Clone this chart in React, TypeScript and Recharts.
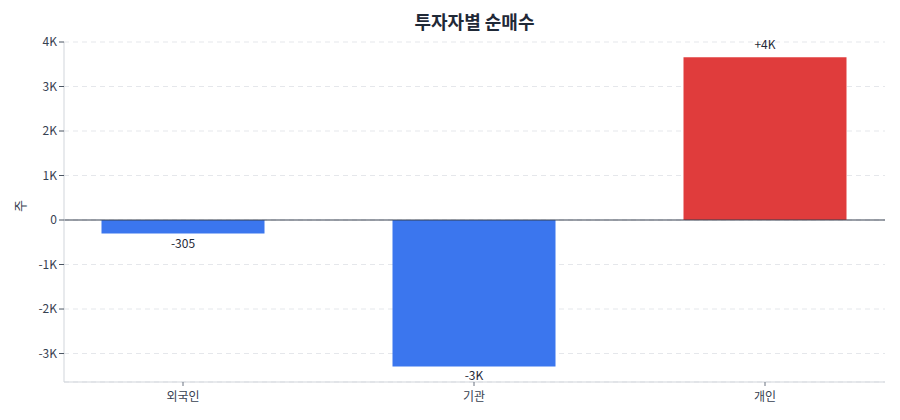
import { Bar, BarChart, CartesianGrid, Cell, LabelList, ReferenceLine, XAxis, YAxis } from "recharts"

const investors = ["외국인", "기관", "개인"]
const netBuy = [-305, -3290, 3660]
const yTicks = [-3000, -2000, -1000, 0, 1000, 2000, 3000, 4000]

const data = investors.map((name, i) => ({ name, value: netBuy[i] }))

const fmtTick = (v: number) => (v === 0 ? "0" : `${v / 1000}K`)

const fmtLabel = (v: number) => {
  if (Math.abs(v) >= 1000) {
    const k = Math.round(v / 1000)
    return `${k > 0 ? "+" : ""}${k}K`
  }
  return `${v > 0 ? "+" : ""}${v}`
}

const font = "'Noto Sans CJK KR', 'Noto Sans', sans-serif"

const BarLabel = (props: any) => {
  const { x, y, width, height, value } = props
  const v = Number(value)
  const cx = Number(x) + Number(width) / 2
  const top = Math.min(Number(y), Number(y) + Number(height))
  const bottom = Math.max(Number(y), Number(y) + Number(height))
  const ty = v >= 0 ? top - 8 : bottom + 14
  return (
    <text x={cx} y={ty} textAnchor="middle" fontSize={12} fill="#1f2937" fontFamily={font}>
      {fmtLabel(v)}
    </text>
  )
}

export default function App() {
  return (
    <div style={{ position: "absolute", left: 0, top: 0, width: 900, height: 420, fontFamily: font }}>
      <div
        style={{
          position: "absolute",
          left: 64,
          width: 821,
          top: 8,
          textAlign: "center",
          fontSize: 18,
          fontWeight: 700,
          color: "#1f2937",
        }}
      >
        투자자별 순매수
      </div>
      <BarChart width={900} height={420} data={data} margin={{ top: 42, right: 15, bottom: 8, left: 10 }}>
        <CartesianGrid vertical={false} stroke="#e5e7eb" strokeDasharray="5 4" />
        <XAxis
          dataKey="name"
          scale="point"
          padding={{ left: 119, right: 120 }}
          stroke="#d1d5db"
          tick={{ fill: "#374151", fontSize: 12, fontFamily: font }}
          tickLine={{ stroke: "#6b7280" }}
          tickSize={4}
          tickMargin={6}
        />
        <YAxis
          width={54}
          domain={[-3640, 4000]}
          ticks={yTicks}
          allowDataOverflow
          tickFormatter={fmtTick}
          stroke="#d1d5db"
          tick={{ fill: "#374151", fontSize: 12, fontFamily: font }}
          tickLine={{ stroke: "#4b5563" }}
          tickSize={5}
          label={{ value: "주", angle: -90, position: "insideLeft", offset: 10, fill: "#374151", fontSize: 13, fontFamily: font }}
        />
        <ReferenceLine y={0} stroke="#374151" strokeWidth={1.2} />
        <Bar dataKey="value" barSize={163} isAnimationActive={false}>
          {data.map((d) => (
            <Cell key={d.name} fill={d.value >= 0 ? "#e03c3c" : "#3b76ee"} />
          ))}
          <LabelList dataKey="value" content={BarLabel} />
        </Bar>
      </BarChart>
    </div>
  )
}
